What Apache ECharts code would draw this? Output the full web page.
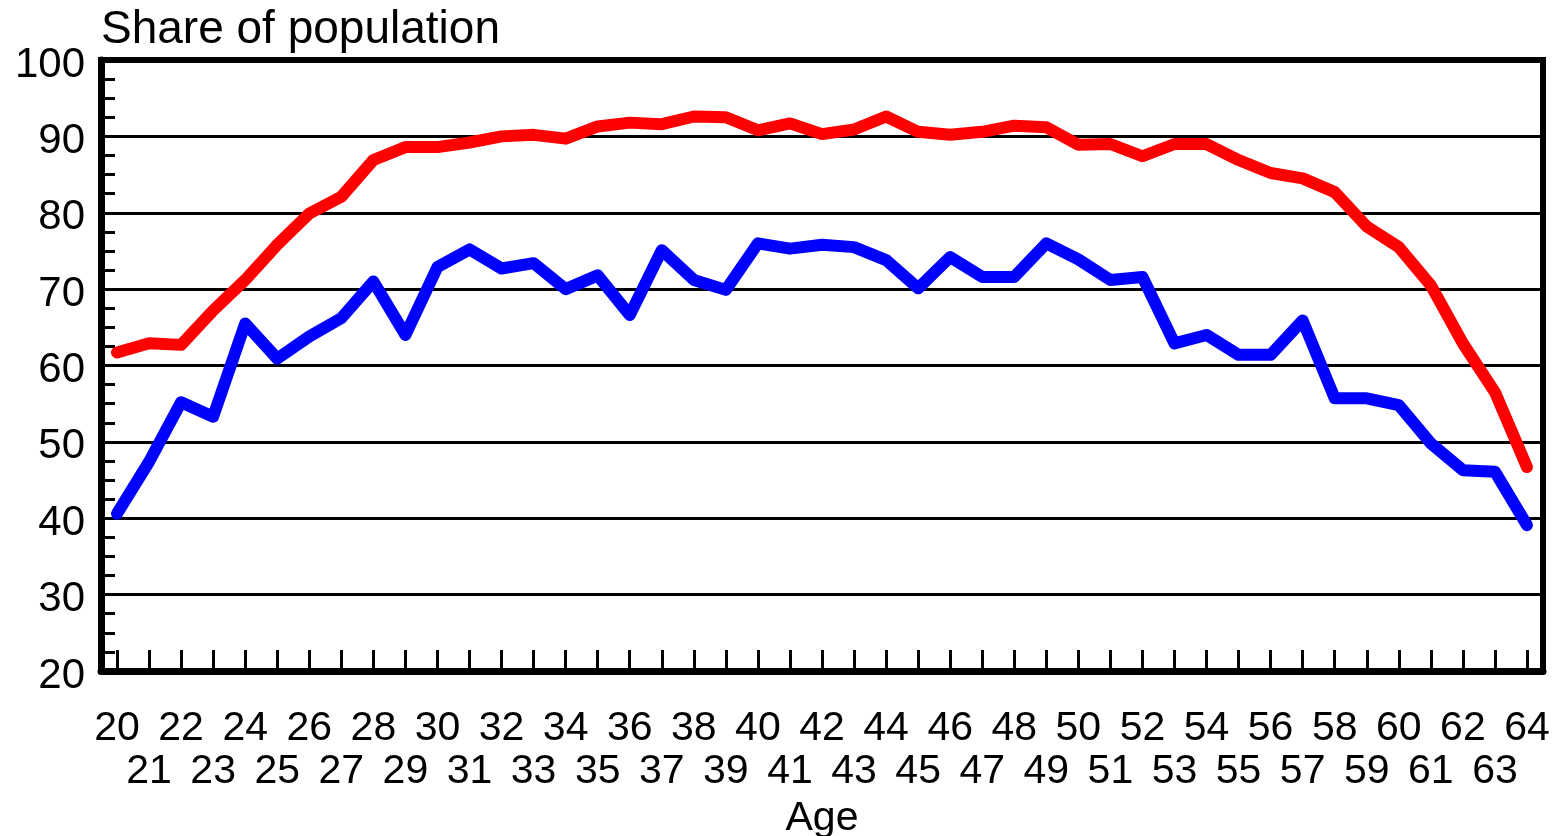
<!DOCTYPE html>
<html>
<head>
<meta charset="utf-8">
<script src="https://cdn.jsdelivr.net/npm/echarts@6/dist/echarts.min.js"></script>
<style>
  html, body { margin: 0; padding: 0; background: #fff; }
  #chart { width: 1565px; height: 836px; }
</style>
</head>
<body>
<div id="chart"></div>
<script>
const ages = ['20','21','22','23','24','25','26','27','28','29','30','31','32','33','34','35','36','37','38','39','40','41','42','43','44','45','46','47','48','49','50','51','52','53','54','55','56','57','58','59','60','61','62','63','64'];

const redSeries = [61.7, 62.9, 62.7, 67.2, 71.2, 75.8, 79.9, 82.1, 86.9, 88.6, 88.6, 89.2, 90.0, 90.2, 89.7, 91.3, 91.8, 91.6, 92.6, 92.5, 90.8, 91.7, 90.3, 90.9, 92.6, 90.6, 90.2, 90.6, 91.4, 91.2, 88.9, 89.0, 87.4, 89.0, 89.0, 86.9, 85.2, 84.5, 82.7, 78.2, 75.5, 70.5, 62.9, 56.5, 46.7];

const blueSeries = [40.6, 47.4, 55.2, 53.3, 65.5, 60.9, 63.8, 66.2, 71.0, 64.0, 72.9, 75.2, 72.7, 73.4, 70.0, 71.8, 66.6, 75.1, 71.2, 69.9, 76.0, 75.3, 75.8, 75.5, 73.8, 70.1, 74.2, 71.6, 71.6, 76.0, 73.9, 71.2, 71.6, 62.9, 64.0, 61.4, 61.4, 65.9, 55.7, 55.7, 54.8, 49.8, 46.3, 46.1, 39.1];

const yMin = 20, yMax = 100, yStep = 10;
const titleText = 'Share of population';
const xName = 'Age';

const FONT = 'Liberation Sans, Arial, sans-serif';
const chart = echarts.init(document.getElementById('chart'), null, { renderer: 'canvas' });
chart.setOption({
  animation: false,
  backgroundColor: '#ffffff',
  title: {
    text: titleText,
    left: 101,
    top: 7,
    padding: 0,
    textStyle: { fontFamily: FONT, fontSize: 46, fontWeight: 'normal', color: '#000' }
  },
  grid: {
    left: 101, right: 22, top: 60, bottom: 165,
    outerBoundsMode: 'none',
    containLabel: false,
    show: true, borderColor: '#000', borderWidth: 6, backgroundColor: '#fff'
  },
  xAxis: {
    type: 'category',
    data: ages,
    boundaryGap: true,
    name: xName,
    nameLocation: 'middle',
    nameGap: 119,
    nameTextStyle: { fontFamily: FONT, fontSize: 41, color: '#000' },
    axisLine: { show: true, lineStyle: { color: '#000', width: 7 } },
    axisTick: { show: true, alignWithLabel: true, inside: true, length: 21, lineStyle: { color: '#000', width: 3 } },
    axisLabel: {
      interval: 0,
      margin: 36,
      fontFamily: FONT, fontSize: 41, lineHeight: 43, color: '#000',
      formatter: function (v, i) { return i % 2 === 0 ? v : '\n' + v; }
    },
    splitLine: { show: false }
  },
  yAxis: {
    type: 'value',
    min: yMin, max: yMax, interval: yStep,
    axisLine: { show: true, lineStyle: { color: '#000', width: 7 } },
    axisTick: { show: true, inside: true, length: 14, lineStyle: { color: '#000', width: 3 } },
    minorTick: { show: true, splitNumber: 4, length: 14, lineStyle: { color: '#000', width: 3 } },
    axisLabel: {
      margin: 16, color: '#000',
      formatter: function (v) { return '{t|' + v + '}'; },
      rich: { t: { fontFamily: FONT, fontSize: 42, color: '#000', padding: [10, 0, 0, 0] } }
    },
    splitLine: { show: true, lineStyle: { color: '#000', width: 3 } },
    minorSplitLine: { show: false }
  },
  series: [
    {
      type: 'line', data: redSeries, symbol: 'none',
      lineStyle: { color: '#ff0000', width: 12, cap: 'round', join: 'round' }
    },
    {
      type: 'line', data: blueSeries, symbol: 'none',
      lineStyle: { color: '#0000ff', width: 12, cap: 'round', join: 'round' }
    }
  ]
});
</script>
</body>
</html>
